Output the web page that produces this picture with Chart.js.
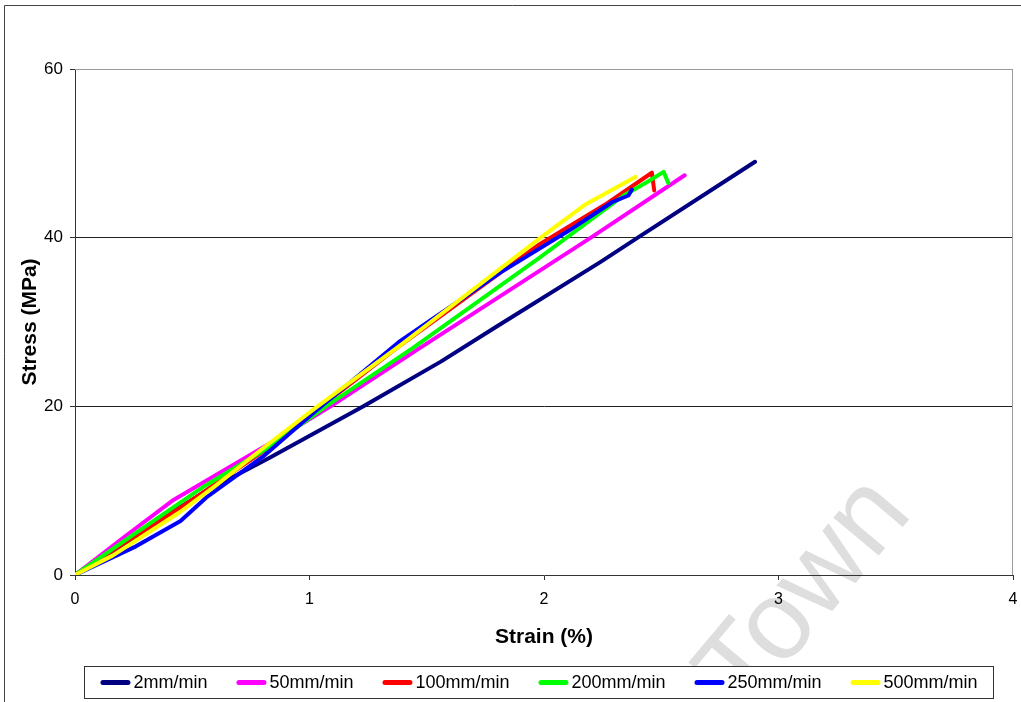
<!DOCTYPE html>
<html>
<head>
<meta charset="utf-8">
<script src="https://cdn.jsdelivr.net/npm/chart.js@4"></script>
<style>
  html, body { margin: 0; padding: 0; background: #fff; }
  #wrap { width: 1021px; height: 702px; position: relative; }
</style>
</head>
<body>
<div id="wrap"><canvas id="myChart"></canvas></div>
<script>
const ctx = document.getElementById('myChart');

// crosshead rates (legend order)
const rates = ['2mm/min', '50mm/min', '100mm/min', '200mm/min', '250mm/min', '500mm/min'];
const colors = ['#000080', '#ff00ff', '#ff0000', '#00ff00', '#0000ff', '#ffff00'];

// strain (%) / stress (MPa) per rate
const strain2   = [0, 0.2, 0.4, 0.55, 0.83, 1.23, 1.56, 1.8, 2.24, 2.4, 2.9];
const stress2   = [0, 3.4, 7.2, 9.8, 13.9, 20, 25.3, 29.5, 37.1, 40, 49.0];

const strain50  = [0, 0.2, 0.42, 0.83, 1.09, 1.47, 2.2, 2.6];
const stress50  = [0, 4.3, 8.9, 15.6, 20, 26.9, 40, 47.4];

const strain100 = [0, 0.2, 0.45, 0.8, 1.05, 1.39, 1.98, 2.27, 2.46, 2.47];
const stress100 = [0, 3.6, 8.0, 14.6, 20, 27.3, 39.2, 44.1, 47.7, 45.6];

const strain200 = [0, 0.26, 0.55, 0.83, 1.07, 1.44, 1.98, 2.34, 2.44, 2.51, 2.53];
const stress200 = [0, 5.0, 10.5, 15.2, 20, 26.9, 37.6, 45.0, 46.6, 47.8, 46.5];

const strain250 = [0, 0.26, 0.45, 0.56, 0.8, 1.02, 1.38, 1.81, 2.11, 2.29, 2.36, 2.375];
const stress250 = [0, 3.4, 6.4, 9.2, 14.0, 19.3, 27.6, 35.8, 40.9, 44.2, 45.0, 45.7];

const strain500 = [0, 0.16, 0.3, 0.45, 0.6, 0.8, 1.02, 1.39, 2.0, 2.18, 2.39];
const stress500 = [0, 2.3, 4.8, 7.5, 10.6, 15.0, 19.7, 27.3, 40.3, 44.0, 47.2];

const xTicks = [0, 1, 2, 3, 4];
const yTicks = [0, 20, 40, 60];

const strains = [strain2, strain50, strain100, strain200, strain250, strain500];
const stresses = [stress2, stress50, stress100, stress200, stress250, stress500];

const FONT = 'Arial, "Liberation Sans", sans-serif';

function pts(xs, ys) {
  return xs.map((x, i) => ({ x: x, y: ys[i] }));
}

const datasets = rates.map((r, i) => ({
  label: r,
  data: pts(strains[i], stresses[i]),
  borderColor: colors[i],
  backgroundColor: colors[i],
  borderWidth: 4,
  borderCapStyle: 'round',
  borderJoinStyle: 'round',
  pointRadius: 0,
  tension: 0,
  order: rates.length - i   // later rates painted on top
}));

// frame round the whole chart + grey border on the plot area + watermark
const decor = {
  id: 'decor',
  beforeDraw(chart) {
    const c = chart.ctx;
    c.save();
    c.translate(806, 594);
    c.rotate(-50 * Math.PI / 180);
    c.font = '112px ' + FONT;
    c.fillStyle = '#dedede';
    c.textAlign = 'center';
    c.textBaseline = 'middle';
    c.fillText('Town', 0, 0);
    c.restore();
  },
  beforeDatasetsDraw(chart) {
    const a = chart.chartArea;
    const c = chart.ctx;
    c.save();
    c.strokeStyle = '#9a9a9a';
    c.lineWidth = 1;
    c.beginPath();
    c.moveTo(a.left, a.top + 0.5);
    c.lineTo(a.right - 0.5, a.top + 0.5);
    c.lineTo(a.right - 0.5, a.bottom);
    c.stroke();
    c.restore();
  },
  afterDraw(chart) {
    const c = chart.ctx;
    c.save();
    c.strokeStyle = '#444';
    c.lineWidth = 1;
    c.beginPath();
    c.moveTo(4.5, 702);
    c.lineTo(4.5, 5.5);
    c.lineTo(1021, 5.5);
    c.stroke();
    c.restore();
  }
};

// boxed legend under the axis title
const boxLegend = {
  id: 'boxLegend',
  afterDraw(chart) {
    const c = chart.ctx;
    const left = 84, right = 994, top = 666, bottom = 699;
    const cy = (top + bottom) / 2 + 1;
    c.save();
    c.fillStyle = '#fff';
    c.fillRect(left, top, right - left, bottom - top);
    c.strokeStyle = '#333';
    c.lineWidth = 1;
    c.strokeRect(left + 0.5, top + 0.5, right - left - 1, bottom - top - 1);
    c.font = '18px ' + FONT;
    c.textBaseline = 'middle';
    c.fillStyle = '#000';
    const sample = 30, gap = 3, spacing = 29;
    const items = chart.data.datasets.map(d => ({ text: d.label, color: d.borderColor, w: c.measureText(d.label).width }));
    const total = items.reduce((s, it) => s + sample + gap + it.w, 0) + spacing * (items.length - 1);
    let x = (left + right) / 2 - total / 2;
    items.forEach(it => {
      c.strokeStyle = it.color;
      c.lineWidth = 5;
      c.lineCap = 'round';
      c.beginPath();
      c.moveTo(x + 2.5, cy - 1);
      c.lineTo(x + sample - 2.5, cy - 1);
      c.stroke();
      c.fillText(it.text, x + sample + gap, cy);
      x += sample + gap + it.w + spacing;
    });
    c.restore();
  }
};

const config = {
  type: 'line',
  data: { datasets: datasets },
  options: {
    responsive: true,
    maintainAspectRatio: false,
    animation: false,
    layout: { padding: { top: 69, right: 8, bottom: 52, left: 0 } },
    scales: {
      x: {
        type: 'linear',
        min: 0,
        max: 4,
        afterBuildTicks: s => { s.ticks = xTicks.map(v => ({ value: v })); },
        afterFit: s => { s.height = 75; s.paddingLeft = 0; s.paddingRight = 0; },
        border: { color: '#333', width: 1 },
        grid: { drawOnChartArea: false, drawTicks: true, tickLength: 5, tickColor: '#333' },
        ticks: { color: '#000', padding: 10, font: { family: FONT, size: 16 } },
        title: {
          display: true,
          text: 'Strain (%)',
          color: '#000',
          padding: 0,
          font: { family: FONT, size: 21, weight: 'bold' }
        }
      },
      y: {
        min: 0,
        max: 60,
        afterBuildTicks: s => { s.ticks = yTicks.map(v => ({ value: v })); },
        afterFit: s => { s.width = 75; },
        border: { color: '#333', width: 1 },
        grid: {
          color: c => c.tick.value === 60 ? '#9a9a9a' : (c.tick.value === 0 ? 'rgba(0,0,0,0)' : '#222'),
          tickColor: '#333',
          tickLength: 5
        },
        ticks: { color: '#000', padding: 7, font: { family: FONT, size: 17 } },
        title: {
          display: true,
          text: 'Stress (MPa)',
          color: '#000',
          padding: { top: 18, bottom: 0 },
          font: { family: FONT, size: 21, weight: 'bold' }
        }
      }
    },
    plugins: {
      legend: { display: false },
      tooltip: { enabled: false }
    }
  },
  plugins: [decor, boxLegend]
};

const cc = new Chart(ctx, config);
</script>
</body>
</html>
